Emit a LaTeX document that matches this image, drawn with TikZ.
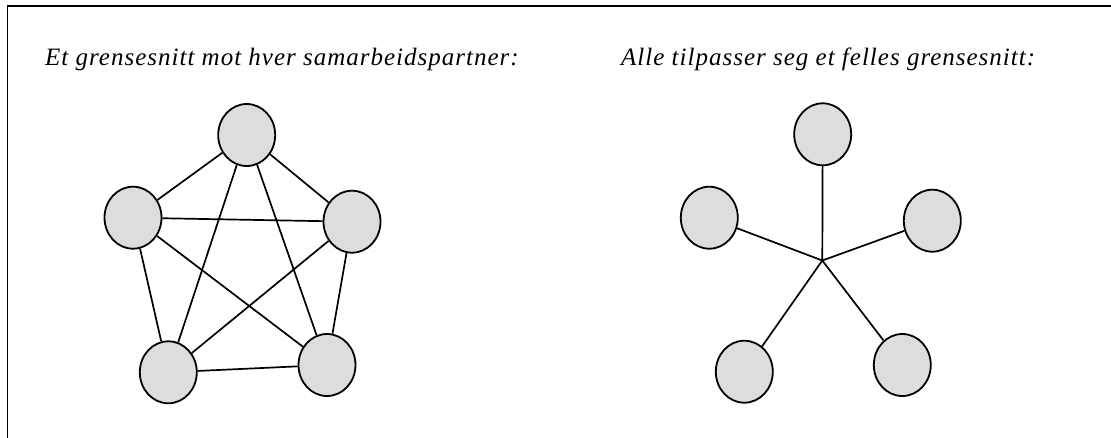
\documentclass[tikz,border=0pt]{standalone}
\usepackage{fontspec}
\setmainfont{Liberation Serif}
\newfontfamily\titlefont[LetterSpace=4]{Liberation Serif}
\usetikzlibrary{shapes.geometric}
\begin{document}
\begin{tikzpicture}[x=1pt,y=-1pt,
  party/.style={ellipse,draw,line width=1.8pt,fill={rgb,255:red,221;green,221;blue,221},minimum width=57pt,minimum height=62pt,inner sep=0pt},
  link/.style={line width=1.7pt},
  title/.style={anchor=base west,inner sep=0pt,font=\titlefont\fontsize{25}{30}\selectfont\itshape}]
\useasboundingbox (0,0) rectangle (1111,437);
\draw[line width=1.9pt] (7.5,460) -- (7.5,6) -- (1130,6);
\node[title] (t1) at (45,65.5) {Et grensesnitt mot hver samarbeidspartner:};
\node[title] (t2) at (621,65.5) {Alle tilpasser seg et felles grensesnitt:};
% left graph
\node[party] (a) at (246.7,135) {};
\node[party] (b) at (133,217.7) {};
\node[party] (c) at (352,221.7) {};
\node[party] (d) at (168.3,372.3) {};
\node[party] (e) at (327,365) {};
\foreach \u/\v in {a/b,a/c,a/d,a/e,b/c,b/d,b/e,c/d,c/e,d/e}
  \draw[link] (\u) -- (\v);
% right graph
\coordinate (h) at (822.3,260.5);
\node[party] (p) at (822.7,134.3) {};
\node[party] (q) at (709.3,217.7) {};
\node[party] (r) at (932.3,220.7) {};
\node[party] (s) at (744.3,371.7) {};
\node[party] (t) at (902.3,365) {};
\foreach \v in {p,q,r,s,t}
  \draw[link] (h) -- (\v);
\end{tikzpicture}
\end{document}
